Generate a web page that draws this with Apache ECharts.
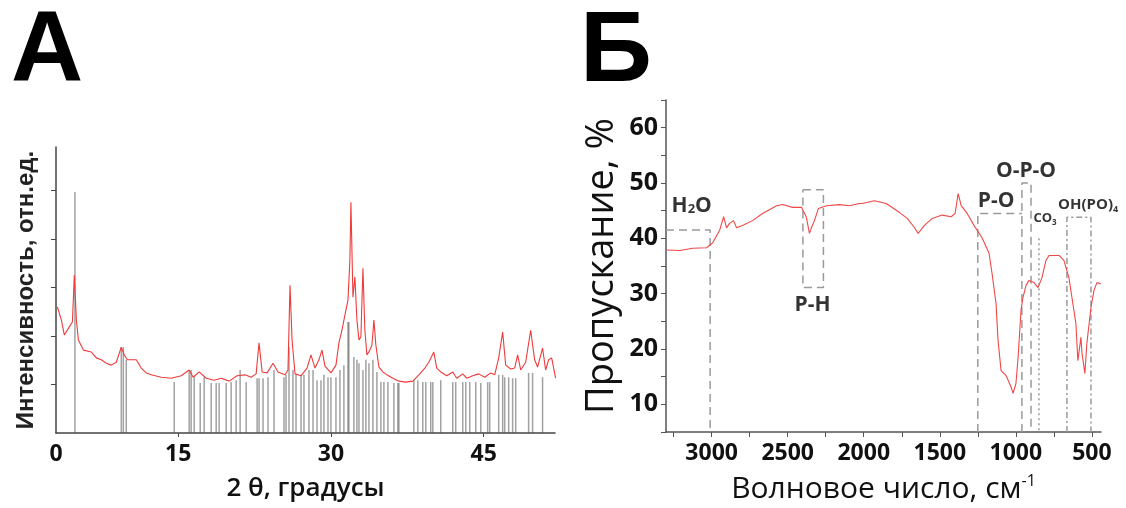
<!DOCTYPE html>
<html><head><meta charset="utf-8">
<script src="https://cdn.jsdelivr.net/npm/echarts@6/dist/echarts.min.js"></script>
<style>html,body{margin:0;padding:0;background:#fff}#c{width:1126px;height:508px}</style>
</head><body><div id="c"></div>
<script>
// ---------- Panel A (XRD) ----------
const A_LABEL_VALUES = [3, 15, 30, 45];
const A_LABEL_TEXT = ['0', '15', '30', '45'];
const A_TICK_VALUES = [15, 30, 45];
const A_Y_TICKS = [1, 2, 3, 4, 5];
// measured pattern: [2θ, intensity]
const xrdCurve = [
[3.14,2.60],[3.53,2.33],[3.82,2.02],[4.31,2.19],[4.61,2.29],[4.80,3.26],[5.0,2.33],[5.2,1.92],
[5.69,1.71],[6.47,1.67],[6.96,1.55],[7.45,1.51],[7.94,1.44],[8.43,1.40],[8.92,1.46],[9.41,1.77],
[9.71,1.61],[10.0,1.51],[10.88,1.51],[11.37,1.34],[11.86,1.24],[12.35,1.20],[13.33,1.15],[14.31,1.13],
[15.29,1.18],[16.08,1.30],[16.47,1.15],[17.06,1.26],[17.75,1.13],[18.53,1.09],[19.22,1.13],[20.0,1.07],
[20.78,1.18],[21.57,1.20],[22.16,1.15],[22.65,1.22],[22.94,1.86],[23.24,1.26],[23.73,1.24],[24.31,1.44],
[24.80,1.26],[25.49,1.20],[25.78,1.30],[25.98,3.05],[26.18,1.92],[26.47,1.22],[27.06,1.18],[27.65,1.34],
[28.04,1.61],[28.43,1.34],[28.82,1.51],[29.12,1.71],[29.41,1.38],[30.0,1.24],[30.49,1.40],[30.78,1.86],
[31.08,2.12],[31.37,2.43],[31.67,2.74],[31.86,3.57],[31.96,4.76],[32.06,3.77],[32.16,2.80],[32.35,3.22],
[32.55,2.33],[32.75,1.92],[32.94,1.98],[33.14,3.40],[33.33,2.12],[33.53,1.61],[33.82,1.71],[34.02,1.81],
[34.22,2.33],[34.41,1.81],[34.71,1.36],[35.10,1.26],[35.49,1.20],[36.08,1.13],[36.67,1.07],[37.35,1.05],
[38.04,1.07],[38.63,1.20],[39.22,1.34],[39.61,1.46],[40.10,1.67],[40.39,1.34],[40.78,1.26],[41.37,1.18],
[41.96,1.26],[42.35,1.13],[42.94,1.22],[43.33,1.13],[43.92,1.18],[44.51,1.22],[45.10,1.15],[45.69,1.24],
[46.08,1.20],[46.47,1.55],[46.86,2.08],[47.16,1.40],[47.65,1.32],[48.04,1.34],[48.33,1.61],[48.63,1.30],
[49.12,1.46],[49.61,2.12],[50.0,1.51],[50.29,1.36],[50.78,1.75],[51.08,1.30],[51.37,1.51],[51.67,1.55],[52.06,1.13]
];
// reference lines (stick pattern): [2θ, intensity]
const xrdSticks = [
[4.86,4.97],[9.41,1.77],[9.61,1.77],[9.90,1.51],[14.61,1.05],[16.08,1.30],[16.27,1.30],[16.57,1.15],
[17.16,1.03],[17.55,1.15],[18.24,1.03],[18.73,1.03],[19.02,1.03],[19.71,1.03],[20.2,1.05],[20.69,1.09],
[21.08,1.30],[21.67,1.05],[22.75,1.13],[22.94,1.13],[23.33,1.13],[23.82,1.15],[24.41,1.30],[25.39,1.15],
[25.59,1.20],[25.88,1.77],[26.27,1.30],[26.57,1.20],[27.06,1.20],[27.35,1.20],[27.84,1.30],[28.24,1.30],
[28.63,1.09],[29.02,1.09],[29.31,1.20],[29.71,1.15],[30.0,1.15],[30.49,1.15],[30.88,1.30],[31.27,1.40],
[31.67,2.29],[31.76,2.29],[32.25,1.57],[32.55,1.51],[32.75,1.44],[33.14,1.30],[33.43,1.51],[33.73,1.44],
[34.12,1.51],[34.51,1.26],[34.90,1.05],[35.20,1.05],[35.59,1.05],[36.18,1.03],[36.57,1.03],[36.67,1.03],
[38.14,1.09],[38.53,1.09],[39.02,1.05],[39.31,1.05],[39.80,1.05],[40.0,1.05],[40.78,1.09],[41.96,1.05],
[42.25,1.05],[42.94,1.05],[43.24,1.05],[43.63,1.05],[44.22,1.05],[44.71,1.03],[45.39,1.05],[45.59,1.05],
[46.47,1.20],[46.86,1.20],[47.06,1.15],[47.45,1.15],[47.84,1.13],[48.14,1.13],[49.41,1.24],[49.80,1.24],[50.78,1.15]
];

// ---------- Panel B (IR) ----------
const B_X_LABELS = [3000, 2500, 2000, 1500, 1000, 500];
const B_X_TICKS = [3250, 3000, 2750, 2500, 2250, 2000, 1750, 1500, 1250, 1000, 750, 500];
const B_Y_LABELS = [10, 20, 30, 40, 50, 60];
// spectrum: [wavenumber, transmittance %]
const irCurve = [
[3295,37.9],[3210,37.8],[3125,38.2],[3033,38.3],[2993,39.2],[2948,41.4],[2921,43.9],[2902,41.9],
[2882,42.7],[2856,43.2],[2836,41.9],[2797,42.3],[2731,43.2],[2665,44.5],[2573,45.9],[2534,46.1],
[2468,45.6],[2409,45.6],[2377,43.8],[2357,40.9],[2344,41.9],[2324,43.2],[2298,45.4],[2245,45.9],
[2160,46.1],[2094,45.9],[2029,46.3],[2009,46.3],[1930,46.8],[1852,46.3],[1766,44.7],[1714,43.6],
[1668,42.0],[1642,40.9],[1602,42.3],[1550,43.6],[1484,44.2],[1425,43.9],[1399,44.5],[1379,48.1],
[1359,45.9],[1320,44.5],[1274,42.3],[1222,40.1],[1176,37.3],[1156,33.6],[1130,28.2],[1117,21.6],
[1097,16.1],[1064,15.2],[1031,13.1],[1018,12.0],[999,13.8],[985,18.5],[966,27.0],[953,29.3],
[933,31.5],[913,32.4],[880,32.0],[854,31.1],[828,32.9],[802,36.0],[782,36.9],[716,36.9],
[684,36.0],[651,32.9],[631,29.3],[605,24.6],[592,17.9],[572,22.1],[565,19.2],[546,15.6],
[533,21.0],[506,27.5],[486,30.6],[467,32.0],[441,31.8]
];
// band annotation outlines
const boxH2O = [[3300,41.5],[3010,41.5],[3010,5]];
const boxPH = [[2400,48.8],[2265,48.8],[2265,31.1],[2400,31.1],[2400,48.8]];
const boxPO = [[1250,5],[1250,44.5],[960,44.5]];
const boxOPO = [[960,5],[960,50],[900,50],[900,5]];
const lineCO3 = [[848,40],[848,5]];
const boxOHPO4 = [[664,5],[664,43.8],[506,43.8],[506,5]];
const bandLabels = [
  {pos:[3131,45.9], text:'H{sub|2}O', size:21},
  {pos:[2337,27.9], text:'P-H', size:21},
  {pos:[1130,46.8], text:'P-O', size:21},
  {pos:[933,52.2], text:'O-P-O', size:21},
  {pos:[808,43.6], text:'CO{sub|3}', size:13},
  {pos:[525,46.0], text:'OH(PO){sub|4}', size:15}
];

const FONT = '"Open Sans", "Liberation Sans", Arial, sans-serif';
const chart = echarts.init(document.getElementById('c'), null, {renderer:'canvas'});

const dashStyle = {color:'#9a9a9a', width:1.5, type:[8,5]};
function boxSeries(data, type){
  return {type:'line', xAxisIndex:1, yAxisIndex:1, data:data, symbol:'none', silent:true,
    lineStyle:Object.assign({}, dashStyle, type?{type:type}:{}), z:1, animation:false};
}

chart.setOption({
  animation:false,
  graphic:[
    {type:'text', left:11, top:3, style:{text:'А', font:'bold 100px "Liberation Sans", Arial, sans-serif', fill:'#000'}},
    {type:'text', left:580, top:3, style:{text:'Б', font:'bold 100px "Liberation Sans", Arial, sans-serif', fill:'#000'}}
  ],
  grid:[
    {left:56, top:147, width:499, height:286, outerBoundsMode:'none'},
    {left:666, top:100, width:435, height:332, outerBoundsMode:'none'}
  ],
  xAxis:[
    {type:'value', gridIndex:0, min:3, max:52,
     name:'2 θ, градусы', nameLocation:'middle', nameGap:43,
     nameTextStyle:{fontSize:26, fontWeight:600, color:'#111', fontFamily:FONT},
     axisLine:{lineStyle:{color:'#444', width:1.5}},
     axisTick:{show:true, customValues:A_TICK_VALUES, length:4, lineStyle:{color:'#444'}},
     axisLabel:{customValues:A_LABEL_VALUES, formatter:v=>A_LABEL_TEXT[A_LABEL_VALUES.indexOf(v)],
       fontSize:23, fontWeight:'bold', color:'#111', margin:10, fontFamily:FONT},
     splitLine:{show:false}},
    {type:'value', gridIndex:1, min:440, max:3300, inverse:true,
     name:'Волновое число, см{sup|-1}', nameLocation:'middle', nameGap:41,
     nameTextStyle:{fontSize:30, color:'#111', fontFamily:FONT,
       rich:{sup:{fontSize:16, verticalAlign:'top', color:'#111', fontFamily:FONT, padding:[0,0,16,0]}}},
     axisLine:{lineStyle:{color:'#555', width:1.5}},
     axisTick:{show:true, customValues:B_X_TICKS, length:5, lineStyle:{color:'#555'}},
     axisLabel:{customValues:B_X_LABELS, formatter:v=>String(v), fontSize:23, fontWeight:'bold',
       color:'#111', margin:10, fontFamily:FONT},
     splitLine:{show:false}}
  ],
  yAxis:[
    {type:'value', gridIndex:0, min:0, max:5.9,
     name:'Интенсивность, отн.ед.', nameLocation:'middle', nameGap:18,
     nameTextStyle:{fontSize:24, fontWeight:'bold', color:'#222', fontFamily:'"Liberation Sans", Arial, sans-serif'},
     axisLine:{show:true, lineStyle:{color:'#444', width:1.5}},
     axisTick:{show:true, customValues:A_Y_TICKS, length:5, lineStyle:{color:'#444'}},
     axisLabel:{show:false}, splitLine:{show:false}},
    {type:'value', gridIndex:1, min:5, max:65, interval:5,
     name:'Пропускание, %', nameLocation:'middle', nameGap:45,
     nameTextStyle:{fontSize:38, color:'#111', fontFamily:FONT},
     axisLine:{show:true, lineStyle:{color:'#555', width:1.5}},
     axisTick:{show:true, length:5, lineStyle:{color:'#555'}},
     axisLabel:{formatter:v=>(B_Y_LABELS.indexOf(v)>=0?String(v):''), fontSize:25, fontWeight:'bold',
       color:'#111', margin:8, fontFamily:FONT},
     splitLine:{show:false}}
  ],
  series:[
    {type:'bar', xAxisIndex:0, yAxisIndex:0, data:xrdSticks, barWidth:1.5,
     itemStyle:{color:'rgba(85,85,85,0.55)'}, silent:true, z:1},
    {type:'line', xAxisIndex:0, yAxisIndex:0, data:xrdCurve, symbol:'none',
     lineStyle:{color:'#ee3b3b', width:1.1}, silent:true, z:3},
    boxSeries(boxH2O), boxSeries(boxPH), boxSeries(boxPO), boxSeries(boxOPO),
    boxSeries(lineCO3, [2,3]), boxSeries(boxOHPO4, [6,3,2,3]),
    {type:'line', xAxisIndex:1, yAxisIndex:1, data:irCurve, symbol:'none',
     lineStyle:{color:'#f04848', width:1.1}, silent:true, z:3, clip:false},
    {type:'scatter', xAxisIndex:1, yAxisIndex:1, symbolSize:0, silent:true, clip:false, z:5,
     data:bandLabels.map(d=>({value:d.pos, label:{show:true, position:'inside', formatter:d.text,
       fontSize:d.size, fontWeight:'bold', color:'#000', fontFamily:FONT,
       rich:{sub:{fontSize:Math.round(d.size*0.6), fontWeight:'bold', color:'#000', fontFamily:FONT, verticalAlign:'bottom', padding:[8,0,0,0]}}}}))}
  ]
});
</script></body></html>
